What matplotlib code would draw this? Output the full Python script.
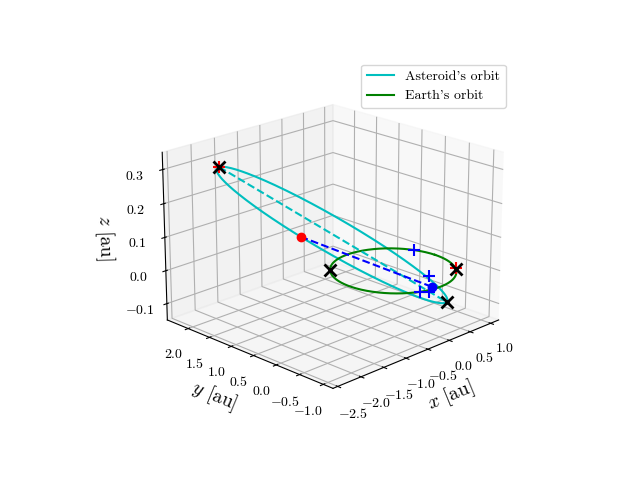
import numpy as np
import matplotlib
matplotlib.use("Agg")
import matplotlib.pyplot as plt

plt.rcParams["font.family"] = "serif"
plt.rcParams["font.serif"] = ["cmr10"]
plt.rcParams["mathtext.fontset"] = "cm"
plt.rcParams["axes.formatter.use_mathtext"] = True

# orbital shape of the asteroid (au), perihelion direction, in-plane normal direction
a_ast = 1.85
e_ast = 0.53
P_dir = np.array([0.54, -0.83, -0.095])
Q_dir = np.array([0.83, 0.54, -0.045])
asteroid_nu_deg = -127

# Earth orbit radius
r_earth = 1.0

# marked points
earth_pos = [-0.1, -0.92, 0.0]
earth_plus_angles_deg = [23, -113]
near_plus = [[-0.1, -0.85, 0.03], [-0.12, -0.87, -0.015]]
earth_x_angles_deg = [135, -40]
red_plus = [[0.77, -0.64, 0.0]]

P = P_dir / np.linalg.norm(P_dir)
Q = Q_dir - P * np.dot(Q_dir, P)
Q = Q / np.linalg.norm(Q)


def orbit_point(nu):
    r = a_ast * (1 - e_ast**2) / (1 + e_ast * np.cos(nu))
    return np.outer(r * np.cos(nu), P) + np.outer(r * np.sin(nu), Q)


ast = orbit_point(np.linspace(0, 2 * np.pi, 400))
peri = a_ast * (1 - e_ast) * P
aph = -a_ast * (1 + e_ast) * P
asteroid_pos = orbit_point(np.array([np.radians(asteroid_nu_deg)]))[0]

th = np.linspace(0, 2 * np.pi, 400)
ex, ey = r_earth * np.cos(th), r_earth * np.sin(th)

fig = plt.figure(figsize=(6.4, 4.8))
ax = fig.add_subplot(projection="3d")
ax.view_init(elev=20, azim=-135)

ax.plot(ast[:, 0], ast[:, 1], ast[:, 2], color="c", label="Asteroid's orbit")
ax.plot(ex, ey, 0 * ex, color="g", label="Earth's orbit")
ax.plot([aph[0], peri[0]], [aph[1], peri[1]], [aph[2], peri[2]], "c--")
ax.plot([asteroid_pos[0], earth_pos[0]], [asteroid_pos[1], earth_pos[1]],
        [asteroid_pos[2], earth_pos[2]], "b--")
ax.plot([asteroid_pos[0]], [asteroid_pos[1]], [asteroid_pos[2]], "o", color="r")
ax.plot([earth_pos[0]], [earth_pos[1]], [earth_pos[2]], "o", color="b")

pa = np.radians(earth_plus_angles_deg)
ax.plot(np.cos(pa), np.sin(pa), 0 * pa, "b+", ms=9, mew=1.5, ls="none")
npl = np.array(near_plus)
ax.plot(npl[:, 0], npl[:, 1], npl[:, 2], "b+", ms=9, mew=1.5, ls="none")
rp = np.array(red_plus + [list(aph)])
ax.plot(rp[:, 0], rp[:, 1], rp[:, 2], "r+", ms=9, mew=1.5, ls="none")

xa = np.radians(earth_x_angles_deg)
xs = np.concatenate([np.cos(xa), [peri[0], aph[0]]])
ys = np.concatenate([np.sin(xa), [peri[1], aph[1]]])
zs = np.concatenate([0 * xa, [peri[2], aph[2]]])
ax.plot(xs, ys, zs, "kx", ms=8, mew=2, ls="none")

ax.set_xlim(-2.6, 1.2)
ax.set_ylim(-1.2, 2.5)
ax.set_zlim(-0.15, 0.35)
ax.set_xticks([-2.5, -2.0, -1.5, -1.0, -0.5, 0.0, 0.5, 1.0])
ax.set_yticks([-1.0, -0.5, 0.0, 0.5, 1.0, 1.5, 2.0])
ax.set_zticks([-0.1, 0.0, 0.1, 0.2, 0.3])
ax.set_xlabel(r"$x$ [au]", fontsize=14)
ax.set_ylabel(r"$y$ [au]", fontsize=14)
ax.set_zlabel(r"$z$ [au]", fontsize=14)
ax.legend(loc="upper right")

plt.savefig("out.png", dpi=100)
